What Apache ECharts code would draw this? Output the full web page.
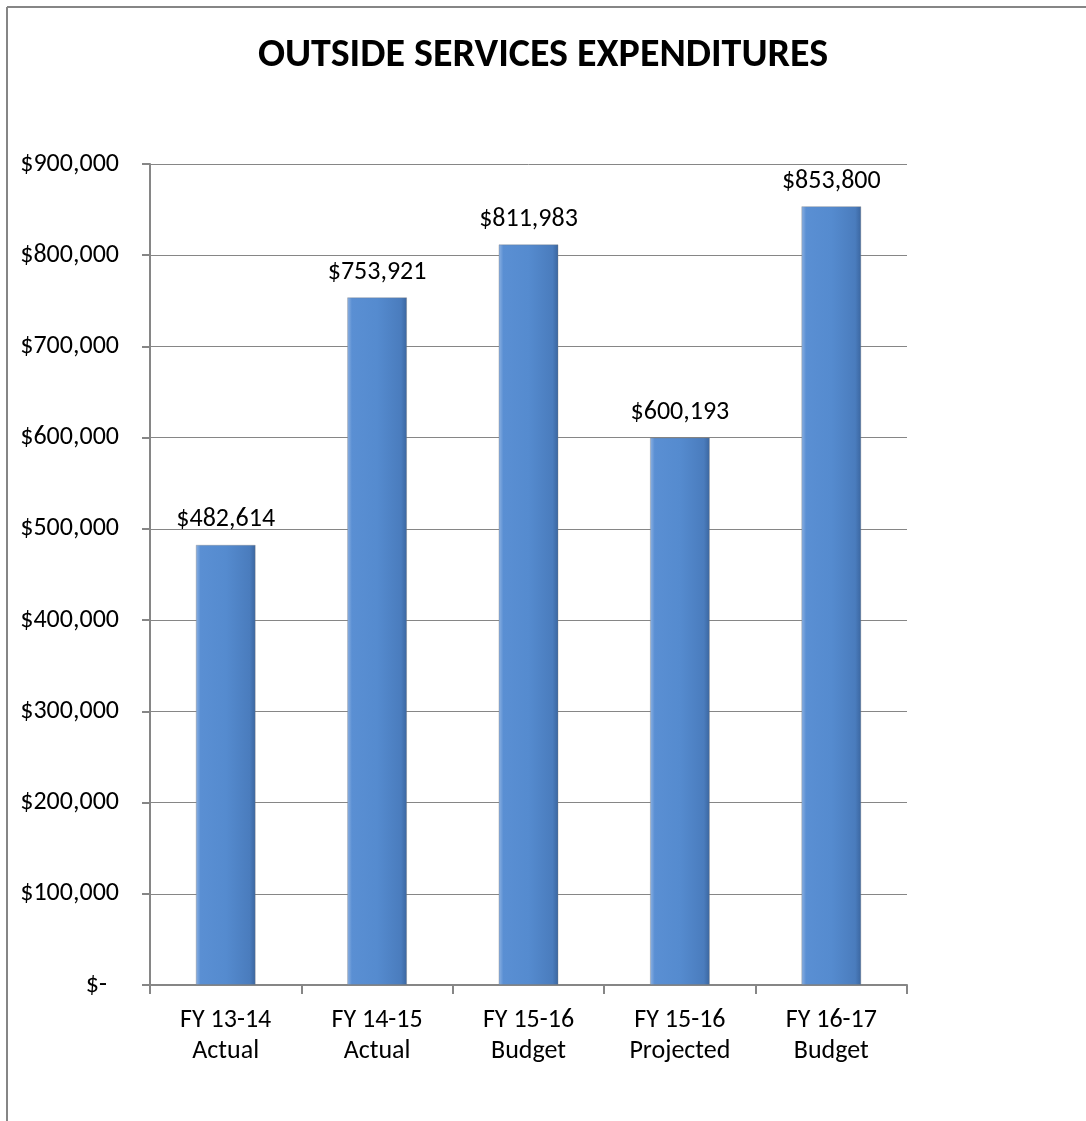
<!DOCTYPE html>
<html>
<head>
<meta charset="utf-8">
<script src="https://cdn.jsdelivr.net/npm/echarts@6/dist/echarts.min.js"></script>
<style>
html,body{margin:0;padding:0;background:#fff;}
#chart{width:1086px;height:1121px;}
</style>
</head>
<body>
<div id="chart"></div>
<script>
const categories = ['FY 13-14\nActual', 'FY 14-15\nActual', 'FY 15-16\nBudget', 'FY 15-16\nProjected', 'FY 16-17\nBudget'];
const values = [482614, 753921, 811983, 600193, 853800];
const titleText = 'OUTSIDE SERVICES EXPENDITURES';

const FONT = 'Carlito, Lato, "Open Sans", sans-serif';

function money(v) {
  return '$' + v.toString().replace(/\B(?=(\d{3})+(?!\d))/g, ',');
}

const chart = echarts.init(document.getElementById('chart'), null, {renderer: 'canvas'});
chart.setOption({
  backgroundColor: '#ffffff',
  animation: false,
  title: {
    text: titleText,
    left: 'center',
    top: 31,
    textStyle: {fontFamily: FONT, fontWeight: 'bold', fontSize: 40, color: '#000'}
  },
  graphic: [
    {type: 'line', shape: {x1: 7, y1: 7, x2: 1086, y2: 7}, style: {stroke: '#868686', lineWidth: 2}},
    {type: 'line', shape: {x1: 7, y1: 7, x2: 7, y2: 1121}, style: {stroke: '#868686', lineWidth: 2}}
  ],
  grid: {left: 150, right: 179, top: 164, bottom: 136, containLabel: false},
  xAxis: {
    type: 'category',
    data: categories,
    axisLine: {lineStyle: {color: '#868686', width: 2}},
    axisTick: {show: true, length: 9, alignWithLabel: false, lineStyle: {color: '#868686', width: 2}},
    axisLabel: {fontFamily: FONT, fontSize: 26, color: '#000', lineHeight: 31, margin: 20}
  },
  yAxis: {
    type: 'value',
    min: 0,
    max: 900000,
    interval: 100000,
    axisLine: {show: true, lineStyle: {color: '#868686', width: 2}},
    axisTick: {show: true, length: 8, lineStyle: {color: '#868686', width: 2}},
    splitLine: {lineStyle: {color: '#868686', width: 1}},
    axisLabel: {
      fontFamily: FONT, fontSize: 26, color: '#000', margin: 31,
      formatter: function (v) { return v === 0 ? '{z|$-}' : money(v); },
      rich: {z: {fontFamily: FONT, fontSize: 26, color: '#000', padding: [0, 12, 0, 0]}}
    }
  },
  series: [{
    type: 'bar',
    data: values,
    barWidth: 60,
    itemStyle: {
      color: new echarts.graphic.LinearGradient(0, 0, 1, 0, [
        {offset: 0, color: '#8fb3e3'},
        {offset: 0.08, color: '#5a8fd3'},
        {offset: 0.5, color: '#558bcf'},
        {offset: 0.9, color: '#4a7cbd'},
        {offset: 1, color: '#3a659e'}
      ]),
      borderColor: 'rgba(120,120,120,0.35)',
      borderWidth: 1
    },
    label: {
      show: true,
      position: 'top',
      distance: 12,
      fontFamily: FONT,
      fontSize: 26,
      color: '#000',
      formatter: function (p) { return money(p.value); }
    }
  }]
});
</script>
</body>
</html>
